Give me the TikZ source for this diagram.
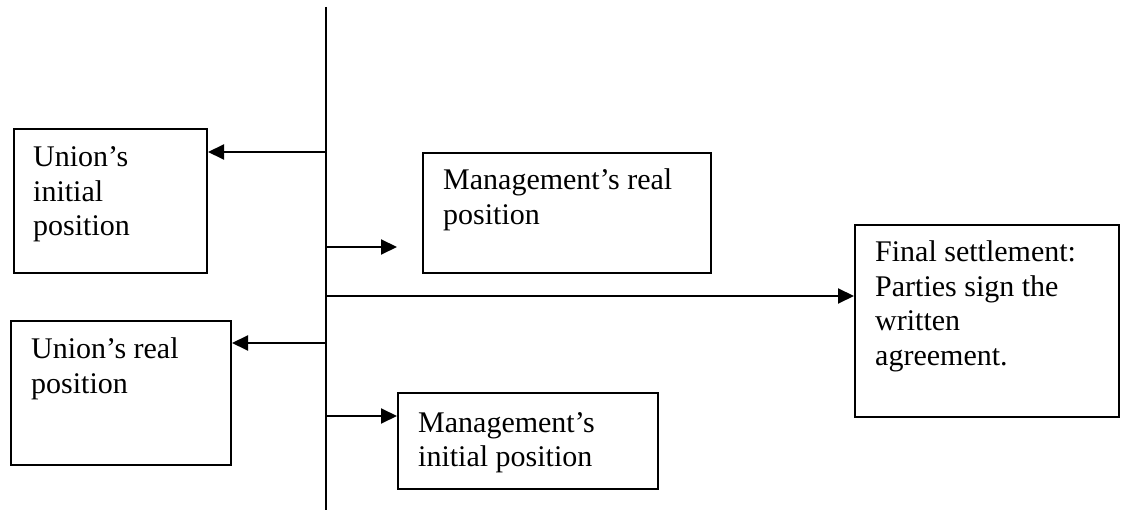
\documentclass[tikz,border=0pt]{standalone}
\usepackage{fontspec}
\setmainfont{Liberation Serif}
\usetikzlibrary{arrows.meta}
\newcommand\boxlines[1]{\begin{tabular}[t]{@{}l@{}}#1\end{tabular}}
\tikzset{
  box/.style={draw, line width=2pt, rectangle, inner sep=0pt, anchor=north west},
  txt/.style={inner sep=0pt, anchor=base west, font=\fontsize{30}{34.5}\selectfont},
  arr/.style={line width=2pt, -{Triangle[length=16pt,width=15pt]}},
  spine/.style={line width=2pt}
}
\begin{document}
\begin{tikzpicture}[x=1pt,y=-1pt]
\useasboundingbox (0,0) rectangle (1122,510);
% boxes
\node[box, minimum width=193pt, minimum height=144pt] (ui) at (13,128) {};
\node[box, minimum width=288pt, minimum height=120pt] (mr) at (422,152) {};
\node[box, minimum width=264pt, minimum height=192pt] (fin) at (854,224) {};
\node[box, minimum width=220pt, minimum height=144pt] (ur) at (10,320) {};
\node[box, minimum width=260pt, minimum height=96pt] (mi) at (397,392) {};
% texts
\node[txt] (uit) at (33,167) {\boxlines{Union’s\\initial\\position}};
\node[txt] (mrt) at (443,190) {\boxlines{Management’s real\\position}};
\node[txt] (fint) at (875,262) {\boxlines{Final settlement:\\Parties sign the\\written\\agreement.}};
\node[txt] (urt) at (31,359) {\boxlines{Union’s real\\position}};
\node[txt] (mit) at (418,432) {\boxlines{Management’s\\initial position}};
% spine
\coordinate (top) at (326,7);
\coordinate (bot) at (326,510);
\draw[spine] (top) -- (bot);
\coordinate (s1) at (326,152);
\coordinate (s2) at (326,247);
\coordinate (e2) at (397,247);
\coordinate (s3) at (326,296);
\coordinate (s4) at (326,343);
\coordinate (s5) at (326,416);
% arrows
\draw[arr] (s1) -- (s1 -| ui.east);
\draw[arr] (s2) -- (e2);
\draw[arr] (s3) -- (s3 -| fin.west);
\draw[arr] (s4) -- (s4 -| ur.east);
\draw[arr] (s5) -- (s5 -| mi.west);
\end{tikzpicture}
\end{document}
